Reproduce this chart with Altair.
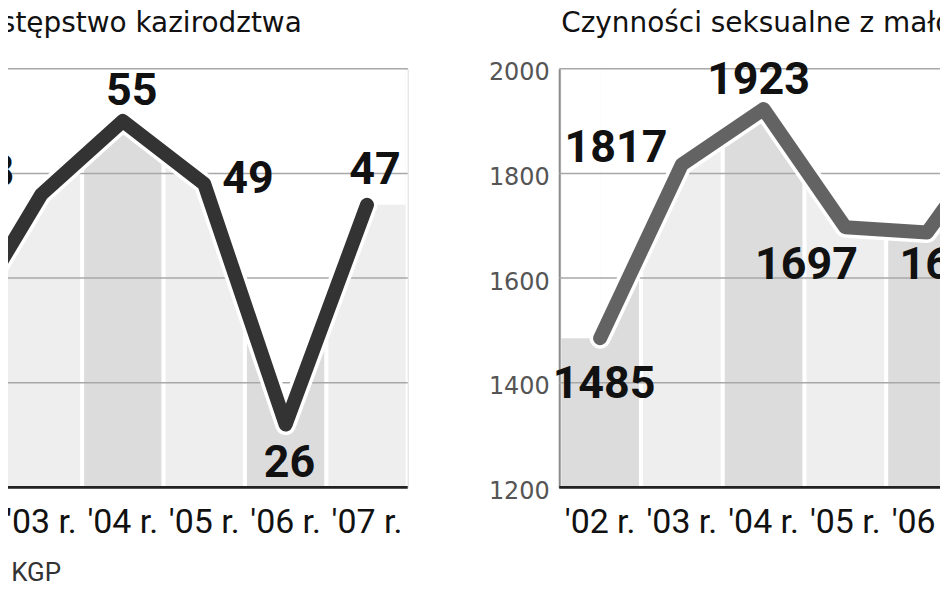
import altair as alt
import pandas as pd

years = ["'02 r.", "'03 r.", "'04 r.", "'05 r.", "'06 r.", "'07 r."]
incest = [35, 48, 55, 49, 26, 47]
minors = [1485, 1817, 1923, 1697, 1687, 1905]
incest_ticks = [20, 30, 40, 50, 60]
minors_ticks = [1200, 1400, 1600, 1800, 2000]
title_left = "Przestępstwo kazirodztwa"
title_right = "Czynności seksualne z małoletnim"
source = "Źródło: KGP"

dark_years = years[0::2]

left_offsets = {"'02 r.": (0, 42), "'03 r.": (-53, -22), "'04 r.": (9, -30),
                "'05 r.": (44, -5), "'06 r.": (4, 39), "'07 r.": (8, -35)}
right_offsets = {"'02 r.": (4, 46), "'03 r.": (-66, -17), "'04 r.": (-5, -29),
                 "'05 r.": (-39, 38), "'06 r.": (24, 33), "'07 r.": (0, -33)}


def panel(values, ticks, line_color, title, title_dx, title_offset, offsets, show_y, width):
    ymin, ymax = ticks[0], ticks[-1]
    df = pd.DataFrame({"year": years, "value": values})
    grid = pd.DataFrame({"tick": ticks[1:]})
    base_rule = pd.DataFrame({"tick": ticks[:1]})
    xs = alt.Scale(domain=years, paddingInner=0.05, paddingOuter=0.025)
    ys = alt.Scale(domain=[ymin, ymax], nice=False, zero=False)
    xaxis = alt.Axis(domain=False, ticks=False, labelFont="Roboto", labelFontSize=34,
                     labelColor="#111", labelPadding=18, labelAngle=0, title=None)
    if show_y:
        yaxis = alt.Axis(values=ticks, format="d", grid=False, ticks=False, domain=True,
                         domainColor="#8a8a8a", domainWidth=2, labelFont="DejaVu Sans",
                         labelFontSize=24, labelColor="#555", labelPadding=10,
                         labelOffset=4, title=None)
    else:
        yaxis = None
    x = alt.X("year:N", scale=xs, sort=years, axis=xaxis, title=None)
    base = alt.Chart(df)

    bands = base.mark_bar().encode(
        x=x,
        y=alt.YDatum(ymax, type="quantitative", scale=ys, axis=yaxis),
        y2=alt.Y2Datum(ymin),
        color=alt.condition(alt.FieldOneOfPredicate(field="year", oneOf=dark_years),
                            alt.value("#dcdcdc"), alt.value("#eeeeee")),
    )
    mask = base.mark_area(color="white", interpolate="linear").encode(
        x=x, y=alt.Y("value:Q"), y2=alt.Y2Datum(ymax))
    mask_first = base.transform_filter(alt.datum.year == years[0]).mark_rect(
        color="white").encode(
        x=alt.X("year:N", bandPosition=0), x2=alt.X2("year", bandPosition=0.5),
        y="value:Q", y2=alt.Y2Datum(ymax))
    mask_last = base.transform_filter(alt.datum.year == years[-1]).mark_rect(
        color="white").encode(
        x=alt.X("year:N", bandPosition=0.5), x2=alt.X2("year", bandPosition=1),
        y="value:Q", y2=alt.Y2Datum(ymax))
    gridlines = alt.Chart(grid).mark_rule(color="#a8a8a8", strokeWidth=1.5).encode(
        y="tick:Q")
    baseline = alt.Chart(base_rule).mark_rule(color="#222", strokeWidth=3).encode(
        y="tick:Q")
    outline = base.mark_line(color="white", strokeWidth=21, strokeCap="round",
                             strokeJoin="round").encode(x=x, y="value:Q")
    line = base.mark_line(color=line_color, strokeWidth=14, strokeCap="round",
                          strokeJoin="round").encode(x=x, y="value:Q")
    labels = []
    for yr in years:
        dx, dy = offsets[yr]
        labels.append(
            base.transform_filter(alt.datum.year == yr).mark_text(
                font="Roboto", fontWeight="bold", fontSize=45, color="#111",
                align="center", baseline="middle", dx=dx, dy=dy).encode(
                x=x, y="value:Q", text="value:Q"))
    return alt.layer(bands, mask, mask_first, mask_last, gridlines, baseline,
                     outline, line, *labels).properties(
        width=width, height=420,
        title=alt.TitleParams(title, anchor="start", frame="group", font="DejaVu Sans",
                              fontSize=28, fontWeight="normal", color="#111",
                              baseline="alphabetic", offset=title_offset, dx=title_dx))


left = panel(incest, incest_ticks, "#333333", title_left, 22, 8, left_offsets, False, 490)
right = panel(minors, minors_ticks, "#636363", title_right, 2, -2, right_offsets, True, 492)

chart = alt.hconcat(left, right, spacing=78).properties(
    padding={"left": -91, "top": 0, "right": -122, "bottom": -6},
    title=alt.TitleParams(source, orient="bottom", anchor="start", font="Roboto",
                          fontSize=26, fontWeight="normal", color="#333", dx=6, offset=20),
).configure_view(stroke=None).configure(background="white")

chart.save("out.html", embed_options={"renderer": "svg", "actions": False})
